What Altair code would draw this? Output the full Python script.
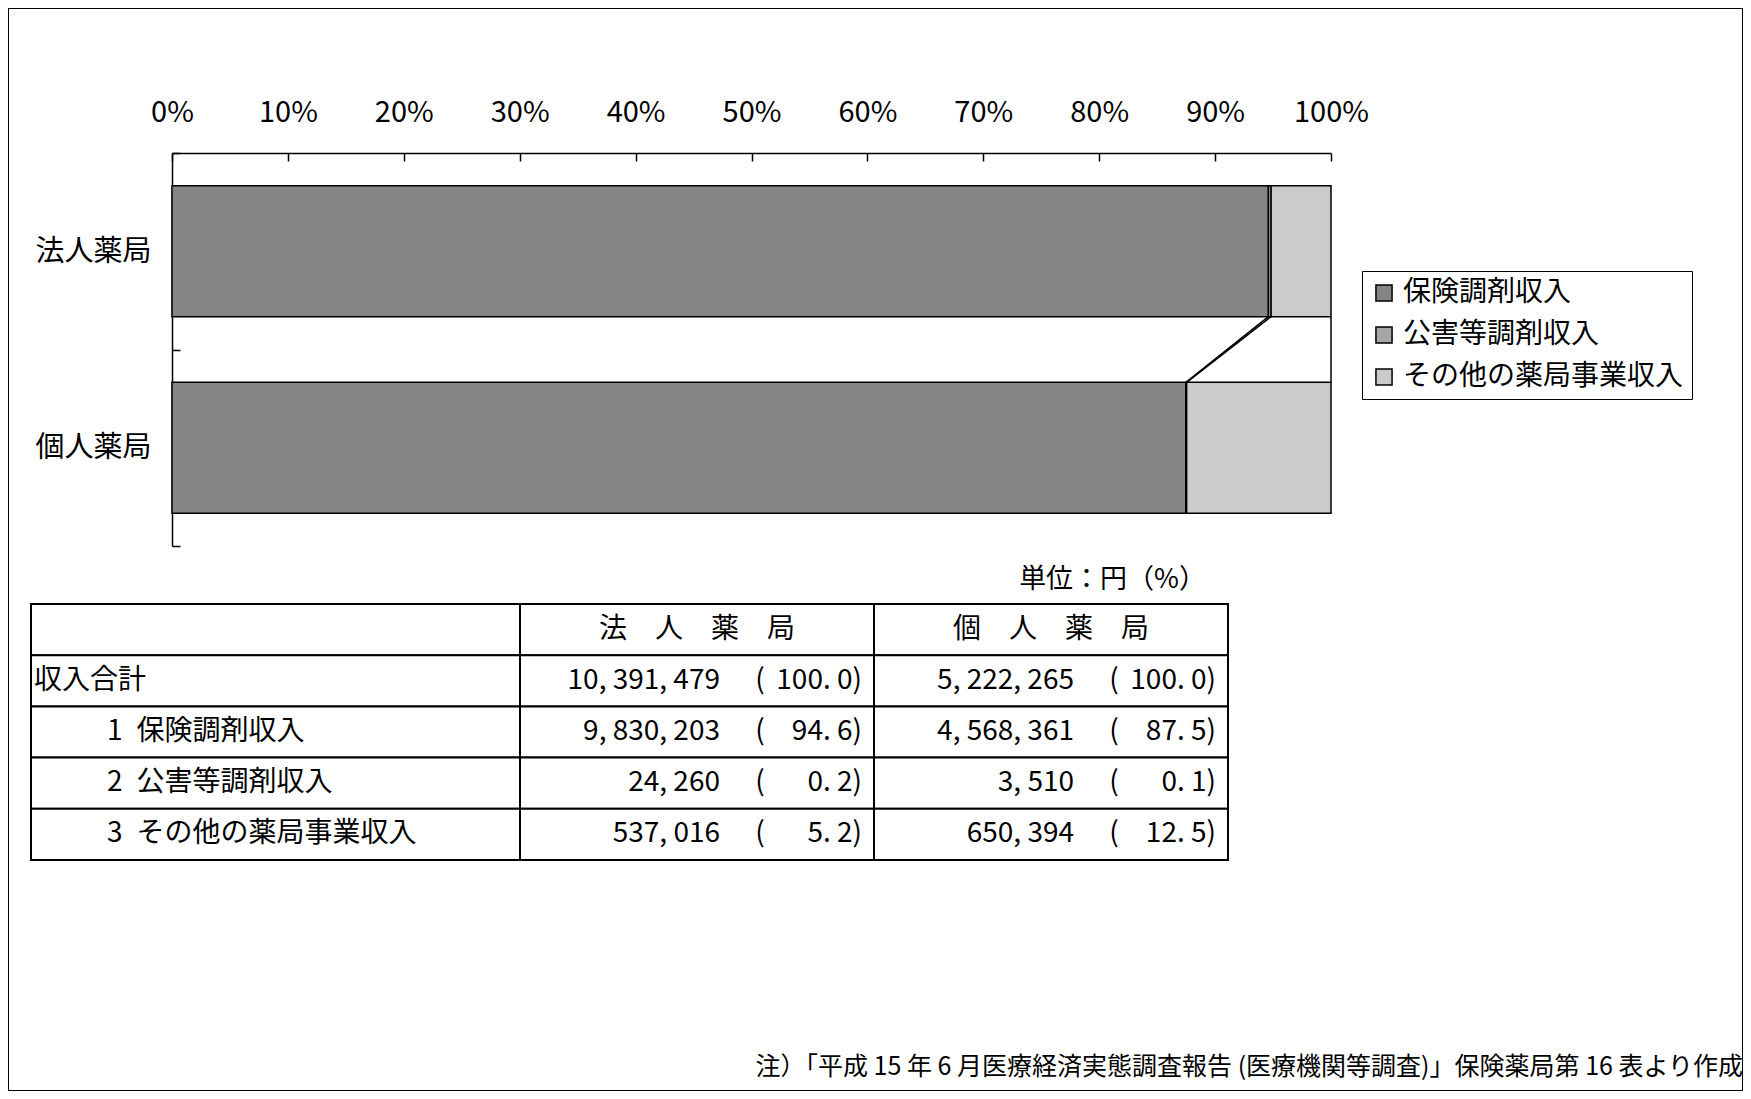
import altair as alt
import pandas as pd

# ---------------- data ----------------
pharmacies = ["法人薬局", "個人薬局"]
categories = ["保険調剤収入", "公害等調剤収入", "その他の薬局事業収入"]
corp_amounts = [9830203, 24260, 537016]
indiv_amounts = [4568361, 3510, 650394]
totals = [10391479, 5222265]
corp_pct = [94.6, 0.2, 5.2]
indiv_pct = [87.5, 0.1, 12.5]
total_label = "収入合計"
header_labels = ["法　人　薬　局", "個　人　薬　局"]
unit_note = "単位：円（%）"
source_note = "注）「平成 15 年 6 月医療経済実態調査報告 (医療機関等調査)」保険薬局第 16 表より作成"
tick_values = list(range(0, 101, 10))

# ---------------- styles / layout ----------------
W, H = 1735, 1083
JP = "Noto Sans CJK JP"
NUM = "Liberation Sans Narrow, Noto Sans CJK JP"
fills = ["#858585", "#a6a6a6", "#cbcbcb"]
BAR_HALF = 0.333

X_RANGE = [164, 1323]
Y_RANGE = [145, 538]
TAB_LAB_RANGE = [23, 512]
TAB_DAT_RANGE = [512, 1220]
TAB_ROW_RANGE = [596, 852]

# ---------------- tables built from the arrays ----------------
amounts = [corp_amounts, indiv_amounts]
bar_rows, line_rows = [], []
cums = []
for i, (ph, am, tot) in enumerate(zip(pharmacies, amounts, totals)):
    s = sum(am)
    c0 = 0.0
    cum = []
    for k, (cat, a) in enumerate(zip(categories, am)):
        c1 = c0 + a / s * 100
        bar_rows.append(dict(pharmacy=ph, idx=i, category=cat, order=k, x0=c0, x1=c1,
                             yt=i + 0.5 - BAR_HALF, yb=i + 0.5 + BAR_HALF))
        cum.append(c1)
        c0 = c1
    cums.append(cum)
for k, cat in enumerate(categories):
    line_rows.append(dict(category=cat, xa=cums[0][k], xb=cums[1][k],
                          ya=0 + 0.5 + BAR_HALF, yb=1 + 0.5 - BAR_HALF))
bars_df = pd.DataFrame(bar_rows)
lines_df = pd.DataFrame(line_rows)

rows_all = ["header", total_label] + categories
pcts = [corp_pct, indiv_pct]
val_rows = []
for ph, am, tot, pc in zip(pharmacies, amounts, totals, pcts):
    vals = [tot] + am
    ps = [100.0] + pc
    for r, v, p in zip([total_label] + categories, vals, ps):
        val_rows.append(dict(col=ph, row=r,
                             num=f"{v:,}".replace(",", ", "),
                             pct=f"{p:.1f}".replace(".", ". ") + ")"))
vals_df = pd.DataFrame(val_rows)
head_df = pd.DataFrame(dict(col=pharmacies, row="header", text=header_labels))
lab_cells = pd.DataFrame(dict(col="label", row=rows_all))
dat_cells = pd.DataFrame([dict(col=c, row=r) for c in pharmacies for r in rows_all])
item_df = pd.DataFrame(dict(col="label", row=categories,
                            text=[f"{i + 1}\u2002{c}" for i, c in enumerate(categories)]))
tot_df = pd.DataFrame(dict(col="label", row=[total_label], text=[total_label]))
unit_df = pd.DataFrame(dict(col=[pharmacies[-1]], row=["header"], text=[unit_note]))

# ---------------- scales ----------------
xs = alt.Scale(domain=[0, 100], range=X_RANGE, nice=False, zero=False)
ys = alt.Scale(domain=[0, 2], range=Y_RANGE, nice=False, zero=False)
x_lab = alt.Scale(type="band", domain=["label"], range=TAB_LAB_RANGE, paddingInner=0, paddingOuter=0)
x_dat = alt.Scale(type="band", domain=pharmacies, range=TAB_DAT_RANGE, paddingInner=0, paddingOuter=0)
y_tab = alt.Scale(type="band", domain=rows_all, range=TAB_ROW_RANGE, paddingInner=0, paddingOuter=0)

label_expr = " : ".join([f"datum.value < {i + 1} ? '{p}'" for i, p in enumerate(pharmacies[:-1])]) + f" : '{pharmacies[-1]}'"

top_axis = alt.Axis(orient="top", offset=-Y_RANGE[0], values=tick_values,
                    labelExpr="datum.value + '%'", ticks=False, domain=True,
                    domainColor="black", domainWidth=1.5, labelFont=NUM, labelFontSize=29,
                    labelColor="black", labelPadding=26, grid=False, title=None,
                    labelFlush=False, labelOverlap=False)
left_axis = alt.Axis(orient="left", offset=-X_RANGE[0], values=[0.5, 1.5], labelExpr=label_expr,
                     ticks=False, domain=True, domainColor="black", domainWidth=1.5,
                     labelFont=JP, labelFontSize=29, labelColor="black", labelPadding=21,
                     grid=False, title=None)
tick_x_axis = alt.Axis(orient="bottom", offset=-(H - Y_RANGE[0]), values=tick_values, labels=False,
                       domain=False, ticks=True, tickSize=8, tickColor="black", tickWidth=1.5,
                       grid=False, title=None)
tick_y_axis = alt.Axis(orient="right", offset=-(W - X_RANGE[0]), values=[0, 1, 2], labels=False,
                       domain=False, ticks=True, tickSize=8, tickColor="black", tickWidth=1.5,
                       grid=False, title=None)

# ---------------- layers ----------------
bars = alt.Chart(bars_df).mark_bar(stroke="black", strokeWidth=1.5).encode(
    x=alt.X("x0:Q", scale=xs, axis=top_axis),
    x2="x1:Q",
    y=alt.Y("yt:Q", scale=ys, axis=left_axis),
    y2="yb:Q",
    color=alt.Color("category:N", scale=alt.Scale(domain=categories, range=fills),
                    legend=alt.Legend(orient="none", legendX=1354, legendY=263, title=None,
                                      symbolType="square", symbolSize=260,
                                      symbolStrokeColor="black", symbolStrokeWidth=1.5,
                                      labelFont=JP, labelFontSize=28, labelColor="black",
                                      labelOffset=5, strokeColor="black", padding=8,
                                      rowPadding=14, fillColor="white", labelLimit=400)),
    order=alt.Order("order:Q"),
)

series = alt.Chart(lines_df).mark_rule(color="black", strokeWidth=1.5).encode(
    x=alt.X("xa:Q", scale=xs, axis=None), x2="xb:Q",
    y=alt.Y("ya:Q", scale=ys, axis=None), y2="yb:Q",
)

ticks = alt.Chart(bars_df).mark_point(opacity=0).encode(
    x=alt.X("x1:Q", scale=xs, axis=tick_x_axis),
    y=alt.Y("idx:Q", scale=ys, axis=tick_y_axis),
)

lab_rect = alt.Chart(lab_cells).mark_rect(fill="white", stroke="black", strokeWidth=2).encode(
    x=alt.X("col:N", scale=x_lab, axis=None), y=alt.Y("row:N", scale=y_tab, axis=None))
dat_rect = alt.Chart(dat_cells).mark_rect(fill="white", stroke="black", strokeWidth=2).encode(
    x=alt.X("col:N", scale=x_dat, axis=None), y=alt.Y("row:N", scale=y_tab, axis=None))

lab_w = (TAB_LAB_RANGE[1] - TAB_LAB_RANGE[0]) / 2
tot_text = alt.Chart(tot_df).mark_text(align="left", dx=-lab_w + 3, font=JP, fontSize=28, color="black").encode(
    x=alt.X("col:N", scale=x_lab, axis=None), y=alt.Y("row:N", scale=y_tab, axis=None), text="text:N")
item_text = alt.Chart(item_df).mark_text(align="left", dx=-lab_w + 76, font=JP, fontSize=28, color="black").encode(
    x=alt.X("col:N", scale=x_lab, axis=None), y=alt.Y("row:N", scale=y_tab, axis=None), text="text:N")

head_text = alt.Chart(head_df).mark_text(align="center", font=JP, fontSize=28, color="black").encode(
    x=alt.X("col:N", scale=x_dat, axis=None), y=alt.Y("row:N", scale=y_tab, axis=None), text="text:N")
num_text = alt.Chart(vals_df).mark_text(align="right", dx=23, font=NUM, fontSize=28, color="black").encode(
    x=alt.X("col:N", scale=x_dat, axis=None), y=alt.Y("row:N", scale=y_tab, axis=None), text="num:N")
paren_text = alt.Chart(vals_df).mark_text(align="center", dx=63, font=NUM, fontSize=28, color="black").encode(
    x=alt.X("col:N", scale=x_dat, axis=None), y=alt.Y("row:N", scale=y_tab, axis=None), text=alt.value("("))
pct_text = alt.Chart(vals_df).mark_text(align="right", dx=165, font=NUM, fontSize=28, color="black").encode(
    x=alt.X("col:N", scale=x_dat, axis=None), y=alt.Y("row:N", scale=y_tab, axis=None), text="pct:N")
unit_text = alt.Chart(unit_df).mark_text(align="right", dx=155, dy=-50, font=JP, fontSize=27, color="black").encode(
    x=alt.X("col:N", scale=x_dat, axis=None), y=alt.Y("row:N", scale=y_tab, axis=None), text="text:N")

chart = alt.layer(
    bars, series, ticks,
    lab_rect, dat_rect, tot_text, item_text, head_text, num_text, paren_text, pct_text, unit_text,
).resolve_scale(
    x="independent", y="independent"
).properties(
    width=W, height=H, padding=0,
    autosize=alt.AutoSizeParams(type="none"),
    title=alt.TitleParams(text=source_note, orient="bottom", anchor="end", offset=-36,
                          font=JP, fontSize=25, fontWeight="normal", color="black"),
).configure_view(stroke="black", strokeWidth=2)

chart.save("out.html", embed_options={"renderer": "svg", "actions": False})
